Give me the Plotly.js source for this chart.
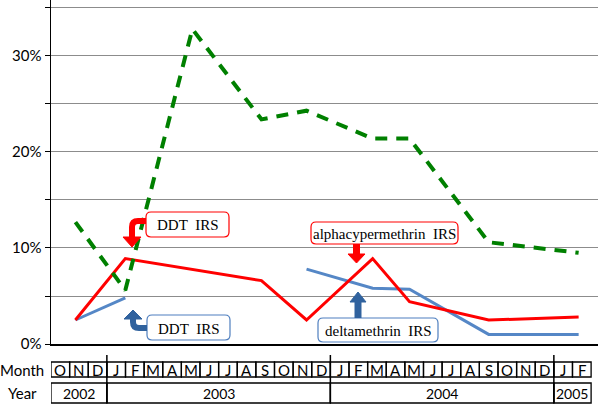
<!DOCTYPE html>
<html>
<head>
<meta charset="utf-8">
<script src="https://cdn.plot.ly/plotly-3.0.1.min.js"></script>
<style>
  html, body { margin: 0; padding: 0; background: #fff; }
  #plot { width: 600px; height: 404px; }
</style>
</head>
<body>
<div id="plot"></div>
<script>
// survey points, as month index (0 = Oct 2002)
var surveyMonth = [0.81, 3.49, 7.09, 10.8, 13.22, 16.77, 18.75, 23.0, 27.83];
var greenVals = [0.127, 0.056, 0.328, 0.234, 0.243, 0.214, 0.214, 0.106, 0.095];
var redVals = [0.025, 0.089, null, 0.066, 0.025, 0.089, 0.044, 0.025, 0.028];
var blueVals = [0.025, 0.048, null, null, 0.078, 0.058, 0.057, 0.010, 0.010];

// table below the axis
var months = ["O","N","D","J","F","M","A","M","J","J","A","S","O","N","D",
              "J","F","M","A","M","J","J","A","S","O","N","D","J","F"];
var years = ["2002", "2003", "2004", "2005"];
var yearStart = [0, 3, 15, 27];
var yearEnd = [3, 15, 27, 29];

var yTicks = [0, 0.05, 0.10, 0.15, 0.20, 0.25, 0.30, 0.35];
var yText = ["0%", "", "10%", "", "20%", "", "30%", ""];

// pixel -> paper helpers (plot area 51..598, 0..344)
var L = 51, W = 547, H = 344;
function px(x) { return (x - L) / W; }
function py(y) { return (H - y) / H; }
function pt(x, y) { return px(x) + "," + py(y); }

function rrect(x0, y0, x1, y1, r) {
  return "M" + pt(x0 + r, y0) + " L" + pt(x1 - r, y0) + " Q" + pt(x1, y0) + " " + pt(x1, y0 + r) +
    " L" + pt(x1, y1 - r) + " Q" + pt(x1, y1) + " " + pt(x1 - r, y1) +
    " L" + pt(x0 + r, y1) + " Q" + pt(x0, y1) + " " + pt(x0, y1 - r) +
    " L" + pt(x0, y0 + r) + " Q" + pt(x0, y0) + " " + pt(x0 + r, y0) + " Z";
}

var red = "#ff0000", blue = "#5587c6", blueArrow = "#30629e", green = "#008000";
var sans = "Lato, 'Open Sans', sans-serif";
var serif = "'Liberation Serif', 'Times New Roman', serif";

var traces = [
  { x: surveyMonth, y: blueVals, mode: "lines", connectgaps: false,
    line: { color: blue, width: 3 }, hoverinfo: "skip" },
  { x: surveyMonth, y: redVals, mode: "lines", connectgaps: true,
    line: { color: red, width: 3 }, hoverinfo: "skip" },
  { x: surveyMonth, y: greenVals, mode: "lines",
    line: { color: green, width: 4, dash: "12px,9px" }, hoverinfo: "skip" }
];

var shapes = [];
var annotations = [];

// month cells
var mTop = py(362), mBot = py(377), yTop = py(383), yBot = py(403);
months.forEach(function (m, i) {
  shapes.push({ type: "rect", xref: "x", yref: "paper", x0: i - 0.5, x1: i + 0.5,
    y0: mBot, y1: mTop, line: { color: "#000", width: 1.3 } });
  annotations.push({ xref: "x", yref: "paper", x: i, y: (mTop + mBot) / 2, text: m,
    showarrow: false, xanchor: "center", yanchor: "middle",
    font: { family: sans, size: 15, color: "#000" } });
});
years.forEach(function (yr, k) {
  shapes.push({ type: "rect", xref: "x", yref: "paper", x0: yearStart[k] - 0.5, x1: yearEnd[k] - 0.5,
    y0: yBot, y1: yTop, line: { color: "#000", width: 1.3 } });
  if (k > 0) {
    shapes.push({ type: "line", xref: "x", yref: "paper", x0: yearStart[k] - 0.5, x1: yearStart[k] - 0.5,
      y0: yBot, y1: py(355), line: { color: "#000", width: 1.5 } });
  }
  annotations.push({ xref: "x", yref: "paper", x: (yearStart[k] + yearEnd[k] - 1) / 2, y: (yTop + yBot) / 2,
    text: yr, showarrow: false, xanchor: "center", yanchor: "middle",
    font: { family: sans, size: 14, color: "#000" } });
});
annotations.push({ xref: "paper", yref: "paper", x: px(46), y: (mTop + mBot) / 2, text: "Month",
  showarrow: false, xanchor: "right", yanchor: "middle",
  font: { family: sans, size: 15, color: "#000" } });
annotations.push({ xref: "paper", yref: "paper", x: px(22), y: (yTop + yBot) / 2, text: "Year",
  showarrow: false, xanchor: "center", yanchor: "middle",
  font: { family: sans, size: 15, color: "#000" } });

// label boxes
function labelBox(x0, y0, x1, y1, col, txt) {
  shapes.push({ type: "path", xref: "paper", yref: "paper", path: rrect(x0, y0, x1, y1, 5),
    fillcolor: "#fff", line: { color: col, width: 1.2 }, layer: "above" });
  annotations.push({ xref: "paper", yref: "paper", x: px((x0 + x1) / 2), y: py((y0 + y1) / 2 + 1),
    text: txt, showarrow: false, xanchor: "center", yanchor: "middle",
    font: { family: serif, size: 15, color: "#000" } });
}
labelBox(146, 212, 229, 237, red, "DDT\u00a0\u00a0IRS");
labelBox(147, 315, 230, 340, "#4f7fbf", "DDT\u00a0\u00a0IRS");
labelBox(311, 222, 458, 244, red, "alphacypermethrin\u00a0\u00a0IRS");
labelBox(318, 318, 438, 342, "#4f7fbf", "deltamethrin\u00a0\u00a0IRS");

// arrows
function pathShape(d, col, fill, w) {
  shapes.push({ type: "path", xref: "paper", yref: "paper", path: d, layer: "above",
    fillcolor: fill ? col : "rgba(0,0,0,0)", line: { color: col, width: w } });
}
pathShape("M" + pt(146, 221) + " L" + pt(138, 221) + " Q" + pt(132, 221) + " " + pt(132, 227) + " L" + pt(132, 238), red, false, 6);
pathShape("M" + pt(123, 237) + " L" + pt(141, 237) + " L" + pt(132, 247) + " Z", red, true, 1);
pathShape("M" + pt(147, 328) + " L" + pt(139, 328) + " Q" + pt(133, 328) + " " + pt(133, 322) + " L" + pt(133, 318), blueArrow, false, 6);
pathShape("M" + pt(124, 319) + " L" + pt(142, 319) + " L" + pt(133, 310) + " Z", blueArrow, true, 1);
pathShape("M" + pt(356.5, 244) + " L" + pt(356.5, 255), red, false, 7);
pathShape("M" + pt(348, 254) + " L" + pt(365, 254) + " L" + pt(356.5, 263) + " Z", red, true, 1);
pathShape("M" + pt(358, 318) + " L" + pt(358, 301), blueArrow, false, 7);
pathShape("M" + pt(350, 302) + " L" + pt(366, 302) + " L" + pt(358, 292) + " Z", blueArrow, true, 1);

var layout = {
  width: 600, height: 404,
  margin: { l: 51, r: 2, t: 0, b: 60 },
  paper_bgcolor: "#fff", plot_bgcolor: "#fff",
  showlegend: false,
  xaxis: { range: [-0.5, 28.87], showticklabels: false, showgrid: false, zeroline: false,
    showline: true, linecolor: "#000", linewidth: 1.5, ticks: "", fixedrange: true },
  yaxis: { range: [0, 0.3583], tickvals: yTicks, ticktext: yText, showgrid: true,
    gridcolor: "#8c8c8c", gridwidth: 1, zeroline: false, showline: true, linecolor: "#000",
    linewidth: 1.5, ticks: "outside", ticklen: 5, tickcolor: "#000",
    tickfont: { family: sans, size: 15, color: "#000" }, fixedrange: true },
  shapes: shapes,
  annotations: annotations
};

Plotly.newPlot("plot", traces, layout, { staticPlot: true });
</script>
</body>
</html>
